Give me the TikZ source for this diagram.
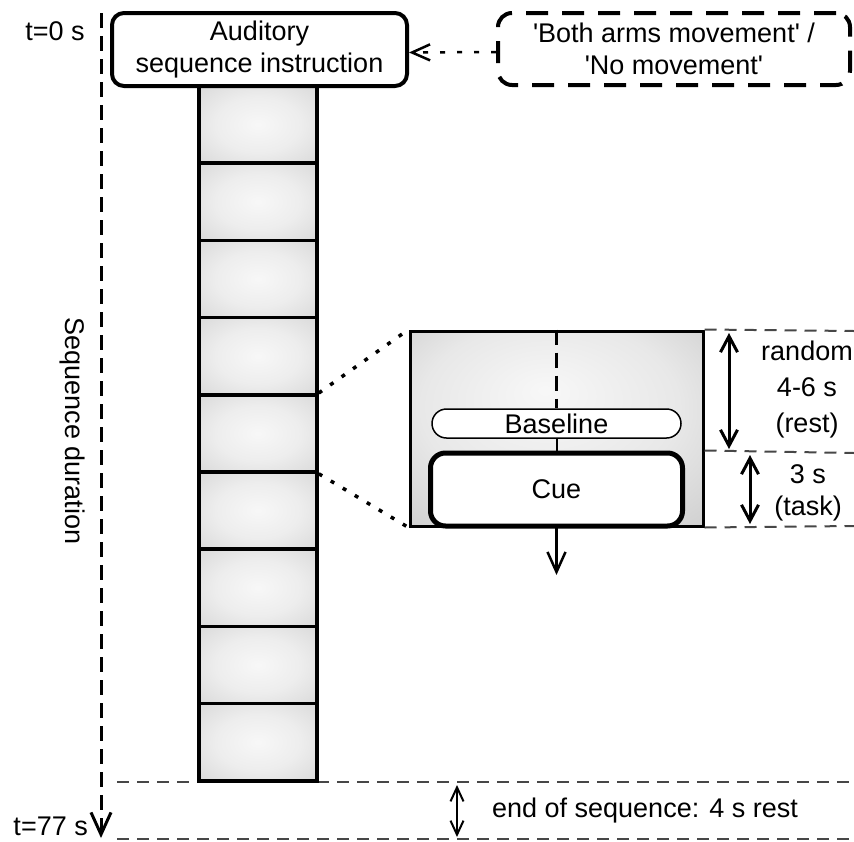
\documentclass[tikz,border=0pt]{standalone}
\usepackage{fontspec}
\setmainfont{Liberation Sans}
\usetikzlibrary{arrows.meta}
\pgfdeclareradialshading{blockshade}{\pgfpoint{0bp}{0bp}}{rgb(0bp)=(0.97,0.97,0.97); rgb(18bp)=(0.93,0.93,0.93); rgb(50bp)=(0.79,0.79,0.79)}
\pgfdeclareradialshading{zoomshade}{\pgfpoint{-2bp}{10bp}}{rgb(0bp)=(0.97,0.97,0.97); rgb(22bp)=(0.91,0.91,0.91); rgb(50bp)=(0.74,0.74,0.74)}
\begin{document}
\begin{tikzpicture}[x=1pt,y=-1pt,
  every node/.style={font=\fontsize{27}{32}\selectfont, inner sep=0pt},
  thickbox/.style={draw, line width=4pt, rounded corners=12pt, align=center, fill=white},
  choicebox/.style={draw, line width=4pt, rounded corners=14pt, align=center, dash pattern=on 22pt off 14pt},
  block/.style={draw, line width=3.5pt, minimum width=118pt, minimum height=77.2pt, shading=blockshade},
  zoombox/.style={draw, line width=3pt, minimum width=293pt, minimum height=195pt, shading=zoomshade},
  pill/.style={draw, line width=1.5pt, fill=white, rounded corners=14.5pt, minimum width=249pt, minimum height=29pt},
  cuebox/.style={draw, line width=5pt, fill=white, rounded corners=15pt, minimum width=252pt, minimum height=73pt},
  gridline/.style={draw=black!72, line width=2pt, dash pattern=on 12pt off 8pt},
  timeline/.style={line width=3pt, dash pattern=on 15pt off 8pt},
  dotline/.style={line width=3.5pt, dash pattern=on 4pt off 10pt},
]
\useasboundingbox (0,0) rectangle (854,841);

% bottom grid lines (behind column)
\coordinate (g1l) at (117,782);
\coordinate (g1r) at (854,782);
\coordinate (g2l) at (117,839);
\coordinate (g2r) at (854,839);
\draw[gridline] (g1l) -- (g1r);
\draw[gridline] (g2l) -- (g2r);

% time axis
\coordinate (tstart) at (101,13);
\coordinate (tend) at (101,838);
\draw[timeline, -{Straight Barb[length=22pt, width=20pt]}] (tstart) -- (tend);
\node[anchor=base] (t0) at (55,40) {t=0 s};
\node[anchor=base east] (t77) at (88,835) {t=77 s};
\node[rotate=-90] (seqdur) at (72,431) {Sequence duration};

% column of trials
\foreach \i in {1,...,9}
  \node[block] (b\i) at (258,{86+77.2*(\i-0.5)}) {};

% instruction boxes
\node[thickbox, minimum width=295pt, minimum height=73pt] (aud) at (259.5,49.5) {Auditory\\sequence instruction};
\node[choicebox, minimum width=352pt, minimum height=72pt] (choice) at (674,49) {\textquotesingle Both arms movement\textquotesingle{} /\\\textquotesingle No movement\textquotesingle};
\draw[line width=2.5pt, dash pattern=on 5pt off 12pt, -{Straight Barb[length=18pt, width=16pt]}] ([yshift=-3pt]choice.west) -- ([yshift=-3pt]aud.east);

% zoomed trial
\node[zoombox] (zoom) at (556.5,428.5) {};
\draw[dotline] (b5.north east) -- (zoom.north west);
\draw[dotline] (b5.south east) -- (zoom.south west);
\node[pill] (base) at (556.5,423.5) {Baseline};
\node[cuebox] (cue) at (556.5,489.5) {Cue};
\draw[timeline] (base.north |- zoom.north) -- (base.north);
\draw[line width=2pt] (base.south) -- (cue.north);
\coordinate (after) at (556.5,575);
\draw[line width=2.5pt, -{Straight Barb[length=20pt, width=18pt]}] (zoom.south) -- (after);

% right annotations
\coordinate (r1) at (854,331);
\coordinate (r2) at (854,453);
\coordinate (r3) at (854,526);
\draw[gridline] (zoom.north east) -- (r1);
\draw[gridline] (cue.north -| zoom.east) -- (r2);
\draw[gridline] (zoom.south east) -- (r3);
\coordinate (a1t) at (729,333);
\coordinate (a1b) at (729,449);
\coordinate (a2t) at (750,455);
\coordinate (a2b) at (750,524);
\draw[line width=3pt, {Straight Barb[length=16pt, width=17pt]}-{Straight Barb[length=16pt, width=17pt]}] (a1t) -- (a1b);
\draw[line width=3pt, {Straight Barb[length=16pt, width=17pt]}-{Straight Barb[length=16pt, width=17pt]}] (a2t) -- (a2b);
\node[align=center, font=\fontsize{27}{36}\selectfont] (restlbl) at (807,390) {random\\4-6 s\\(rest)};
\node[align=center] (tasklbl) at (808,493) {3 s\\(task)};

% end of sequence
\coordinate (a3t) at (457,785);
\coordinate (a3b) at (457,837);
\draw[line width=2pt, {Straight Barb[length=14pt, width=13pt]}-{Straight Barb[length=14pt, width=13pt]}] (a3t) -- (a3b);
\node (endlbl) at (645,811) {end of sequence: 4 s rest};
\end{tikzpicture}
\end{document}
